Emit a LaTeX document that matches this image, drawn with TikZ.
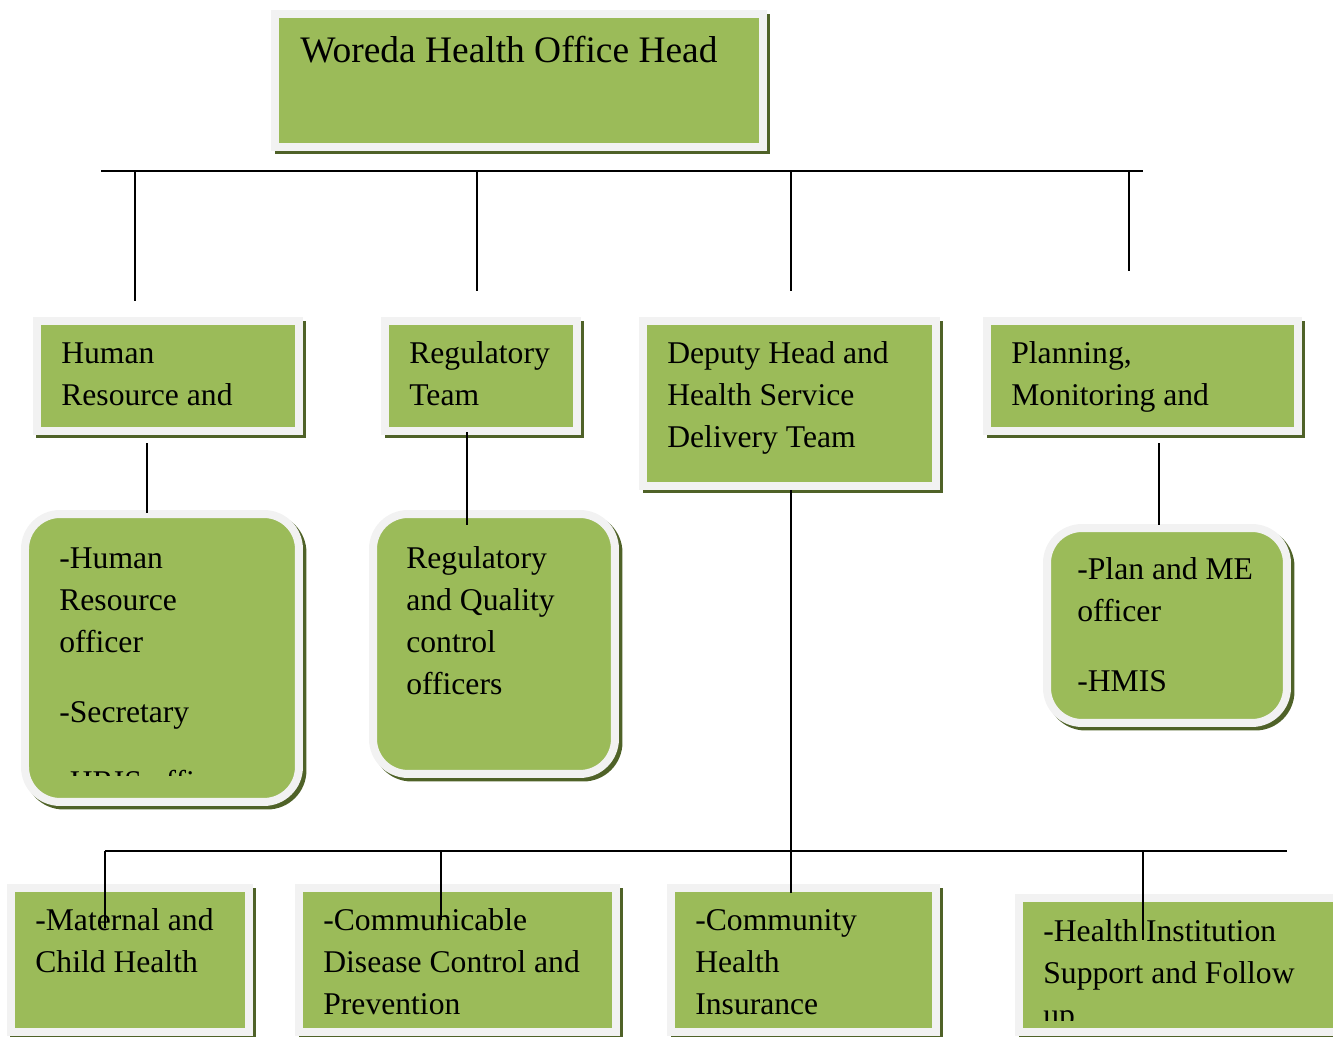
\documentclass[tikz,border=0pt]{standalone}
\usepackage{fontspec}
\setmainfont{Liberation Serif}
\usetikzlibrary{shadows}
\definecolor{boxgreen}{HTML}{9BBB59}
\definecolor{rimgray}{HTML}{F2F2F2}
\definecolor{shadowolive}{HTML}{4F6228}
\tikzset{
  unit/.style={fill=boxgreen, draw=rimgray, line width=0.16cm, inner sep=0pt, anchor=north west,
    drop shadow={shadow xshift=0.07cm, shadow yshift=-0.07cm, fill=shadowolive, draw=shadowolive, line width=0.16cm, opacity=1}},
  staff/.style={unit, rounded corners=0.7cm},
  txt/.style={font=\fontsize{18}{23.9}\selectfont, align=left, inner sep=0pt, anchor=base west},
  headtxt/.style={txt, font=\fontsize{21.3}{26}\selectfont},
  link/.style={draw=black, line width=1pt},
}

\begin{document}
\begin{tikzpicture}[x=0.02cm, y=-0.02cm]
  \clip (0,0) rectangle (1333,1036);

  % head
  \node[unit, minimum width=9.76cm, minimum height=2.66cm] (head) at (271,10) {};
  \node[headtxt] (headlbl) at (300,62) {Woreda Health Office Head};

  % teams (text placed at the baseline of its last line)
  \node[unit, minimum width=5.24cm, minimum height=2.2cm] (hr) at (33,317) {};
  \node[txt] (hrlbl) at (61,405) {Human\\Resource and};
  \node[unit, minimum width=3.84cm, minimum height=2.2cm] (reg) at (381,317) {};
  \node[txt] (reglbl) at (409,405) {Regulatory\\Team};
  \node[unit, minimum width=5.86cm, minimum height=3.3cm] (dep) at (639,317) {};
  \node[txt] (deplbl) at (667,447) {Deputy Head and\\Health Service\\Delivery Team};
  \node[unit, minimum width=6.22cm, minimum height=2.2cm] (plan) at (983,317) {};
  \node[txt] (planlbl) at (1011,405) {Planning,\\Monitoring and};

  % officers
  \node[staff, minimum width=5.48cm, minimum height=5.76cm] (hrstaff) at (21,510) {};
  \begin{scope}
    \clip (29,518) rectangle (295,775);
    \node[txt] (hrstafflbl) at (59,792) {-Human\\Resource\\officer\\[15.9pt]-Secretary\\[15.9pt]-HRIS officer};
  \end{scope}
  \node[staff, minimum width=4.84cm, minimum height=5.2cm] (regstaff) at (369,510) {};
  \node[txt] (regstafflbl) at (406,694) {Regulatory\\and Quality\\control\\officers};
  \node[staff, minimum width=4.8cm, minimum height=3.9cm] (planstaff) at (1043,524) {};
  \node[txt] (planstafflbl) at (1077,691) {-Plan and ME\\officer\\[15.4pt]-HMIS};

  % service units
  \node[unit, minimum width=4.76cm, minimum height=2.88cm] (mch) at (7,884) {};
  \node[txt] (mchlbl) at (35,972) {-Maternal and\\Child Health};
  \node[unit, minimum width=6.34cm, minimum height=2.88cm] (cdc) at (295,884) {};
  \node[txt] (cdclbl) at (323,1014) {-Communicable\\Disease Control and\\Prevention};
  \node[unit, minimum width=5.3cm, minimum height=2.88cm] (chi) at (667,884) {};
  \node[txt] (chilbl) at (695,1014) {-Community\\Health\\Insurance};
  \node[unit, minimum width=6.52cm, minimum height=2.68cm] (his) at (1015,894) {};
  \begin{scope}
    \clip (1023,902) rectangle (1333,1020);
    \node[txt] (hislbl) at (1043,1025) {-Health Institution\\Support and Follow\\up};
  \end{scope}

  % top bus
  \coordinate (topL) at (101,171);
  \coordinate (topR) at (1143,171);
  \coordinate (hrtop) at (135,301);
  \coordinate (regtop) at (477,291);
  \coordinate (deptop) at (791,291);
  \coordinate (plantop) at (1129,271);
  \draw[link] (topL) -- (topR);
  \foreach \c in {hrtop,regtop,deptop,plantop}
    \draw[link] (\c |- topL) -- (\c);

  % team to officers
  \coordinate (hrA) at (147,443);
  \coordinate (hrB) at (147,513);
  \coordinate (regA) at (467,432);
  \coordinate (regB) at (467,525);
  \coordinate (planA) at (1159,443);
  \coordinate (planB) at (1159,525);
  \draw[link] (hrA) -- (hrB);
  \draw[link] (regA) -- (regB);
  \draw[link] (planA) -- (planB);

  % bottom bus
  \coordinate (depA) at (791,490);
  \coordinate (depB) at (791,893);
  \coordinate (botL) at (105,851);
  \coordinate (botR) at (1287,851);
  \coordinate (mchtop) at (105,928);
  \coordinate (cdctop) at (441,920);
  \coordinate (histop) at (1143,940);
  \draw[link] (depA) -- (depB);
  \draw[link] (botL) -- (botR);
  \foreach \c in {mchtop,cdctop,histop}
    \draw[link] (\c |- botL) -- (\c);
\end{tikzpicture}
\end{document}
